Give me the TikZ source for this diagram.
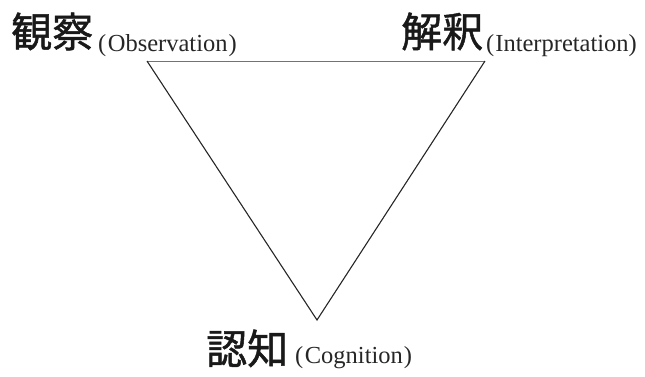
\documentclass[tikz,border=0pt]{standalone}
\usepackage{fontspec}
\setmainfont{Liberation Serif}
\newfontfamily\cjk[FakeBold=1.2]{Noto Sans CJK JP}
\tikzset{
  cjklabel/.style={inner sep=0pt, anchor=base west, font=\cjk\fontsize{41}{41}\selectfont, text=black!90},
  latlabel/.style={inner sep=0pt, anchor=base west, font=\fontsize{24.5}{25}\selectfont, text=black!85},
  sideline/.style={draw=black!85, line width=1.1pt},
  topline/.style={draw=black!55, line width=1pt}
}
\begin{document}
\begin{tikzpicture}[x=1pt,y=-1pt]
\useasboundingbox (0,0) rectangle (645,376);
\coordinate (obs) at (147,61);
\coordinate (int) at (485,61);
\coordinate (cog) at (317,320);
\draw[topline] (obs) -- (int);
\draw[sideline] (obs) -- (cog) -- (int);
\node[cjklabel] (obsj) at (11,47) {観察};
\node[latlabel] (obse) at (98,51) {(\hspace{1.5pt}Observation\hspace{1pt})};
\node[cjklabel] (intj) at (401,47) {解釈};
\node[latlabel] (inte) at (486,51) {(\hspace{1pt}Interpretation)};
\node[cjklabel] (cogj) at (206,364) {認知};
\node[latlabel] (coge) at (295,363) {(\hspace{1.5pt}Cognition\hspace{1pt})};
\end{tikzpicture}
\end{document}
